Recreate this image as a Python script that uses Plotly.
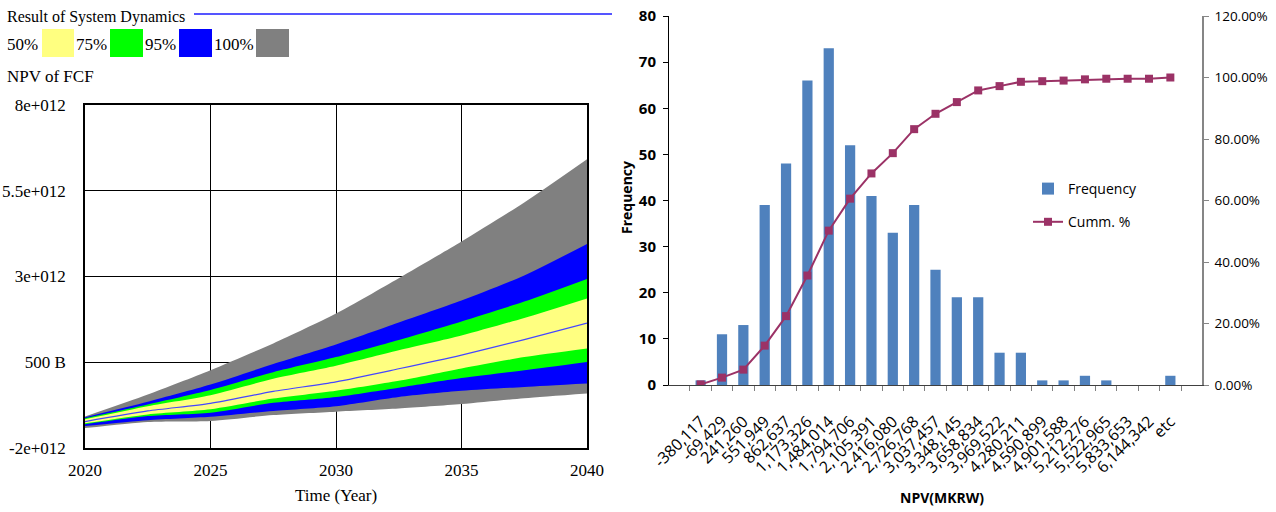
import plotly.graph_objects as go

# ---------------- Left panel data (NPV of FCF, in units of 1e12 KRW) ----------------
years = [2020, 2022.5, 2025, 2027.5, 2030, 2032.5, 2035, 2037.5, 2040]
p100_hi = [-1.08, -0.44, 0.27, 1.05, 1.92, 2.95, 4.02, 5.16, 6.42]
p95_hi = [-1.10, -0.65, -0.15, 0.45, 1.02, 1.66, 2.30, 3.03, 3.95]
p75_hi = [-1.13, -0.73, -0.31, 0.21, 0.65, 1.15, 1.69, 2.27, 2.93]
p50_hi = [-1.16, -0.78, -0.46, 0.02, 0.40, 0.85, 1.28, 1.79, 2.36]
median = [-1.23, -0.92, -0.70, -0.35, -0.07, 0.31, 0.71, 1.16, 1.64]
p50_lo = [-1.28, -1.02, -0.87, -0.56, -0.33, -0.04, 0.32, 0.65, 0.90]
p75_lo = [-1.31, -1.07, -0.97, -0.68, -0.51, -0.24, 0.04, 0.27, 0.51]
p95_lo = [-1.36, -1.19, -1.09, -0.92, -0.78, -0.51, -0.33, -0.22, -0.12]
p100_lo = [-1.42, -1.24, -1.21, -1.04, -0.94, -0.85, -0.72, -0.55, -0.41]

left_ytick_vals = [-2, 0.5, 3, 5.5, 8]
left_ytick_text = ["-2e+012", "500 B", "3e+012", "5.5e+012", "8e+012"]
left_xtick_vals = [2020, 2025, 2030, 2035, 2040]

# ---------------- Right panel data (histogram) ----------------
bins = ["-380,117", "-69,429", "241,260", "551,949", "862,637", "1,173,326",
        "1,484,014", "1,794,706", "2,105,391", "2,416,080", "2,726,768",
        "3,037,457", "3,348,145", "3,658,834", "3,969,522", "4,280,211",
        "4,590,899", "4,901,588", "5,212,276", "5,522,965", "5,833,653",
        "6,144,342", "etc"]
frequency = [1, 11, 13, 39, 48, 66, 73, 52, 41, 33, 39, 25, 19, 19, 7, 7,
             1, 1, 2, 1, 0, 0, 2]
cumm_pct = [0.002, 0.024, 0.050, 0.128, 0.224, 0.356, 0.502, 0.606, 0.688,
            0.754, 0.832, 0.882, 0.920, 0.958, 0.972, 0.986, 0.988, 0.990,
            0.994, 0.996, 0.996, 0.996, 1.000]

W, H = 1276, 512
def px(x):
    return x / W
def py(y):
    return 1 - y / H

SERIF = "Liberation Serif"
SANS = "Open Sans"

fig = go.Figure()

bands = [
    (p100_lo, p100_hi, "#808080"),
    (p95_lo, p95_hi, "#0000FF"),
    (p75_lo, p75_hi, "#00FF00"),
    (p50_lo, p50_hi, "#FFFF80"),
]
for lo, hi, col in bands:
    fig.add_trace(go.Scatter(x=years, y=lo, mode="lines",
                             line=dict(width=0, color=col, shape="spline", smoothing=0.7),
                             showlegend=False, hoverinfo="skip", xaxis="x", yaxis="y"))
    fig.add_trace(go.Scatter(x=years, y=hi, mode="lines",
                             line=dict(width=0, color=col, shape="spline", smoothing=0.7),
                             fill="tonexty", fillcolor=col, showlegend=False,
                             hoverinfo="skip", xaxis="x", yaxis="y"))
fig.add_trace(go.Scatter(x=years, y=median, mode="lines",
                         line=dict(width=1.2, color="#4646FF", shape="spline", smoothing=0.7),
                         showlegend=False, xaxis="x", yaxis="y"))

# Right panel
fig.add_trace(go.Bar(x=bins, y=frequency, name="Frequency", marker=dict(color="#4F81BD", line_width=0),
                     xaxis="x2", yaxis="y2", legendgroup="a"))
fig.add_trace(go.Scatter(x=bins, y=cumm_pct, name="Cumm. %", mode="lines+markers",
                         line=dict(color="#9B3266", width=2),
                         marker=dict(symbol="square", size=8, color="#9B3266"),
                         xaxis="x2", yaxis="y3", legendgroup="b"))

fig.update_layout(
    width=W, height=H,
    margin=dict(l=0, r=0, t=0, b=0, autoexpand=False),
    paper_bgcolor="white", plot_bgcolor="white",
    bargap=0.52,
    xaxis=dict(domain=[px(85), px(587)], range=[2020, 2040], tickvals=left_xtick_vals,
               showgrid=True, gridcolor="black", gridwidth=1, zeroline=False,
               showline=True, linecolor="black", linewidth=1.5, mirror=True,
               ticks="", ticklabelstandoff=6, automargin=False,
               tickfont=dict(family=SERIF, size=17, color="black"), anchor="y"),
    yaxis=dict(domain=[py(448), py(105)], range=[-2, 8], tickvals=left_ytick_vals,
               ticktext=left_ytick_text, showgrid=True, gridcolor="black", gridwidth=1,
               zeroline=False, showline=True, linecolor="black", linewidth=1.5, mirror=True,
               ticks="", ticklabelstandoff=14, automargin=False,
               tickfont=dict(family=SERIF, size=17, color="black"), anchor="x"),
    xaxis2=dict(domain=[px(669), px(1202)], type="category", anchor="y2",
                showgrid=False, showline=True, linecolor="#404040", linewidth=1,
                ticks="outside", tickson="boundaries", ticklen=5, tickcolor="#808080",
                tickangle=-45, ticklabelstandoff=20, automargin=False,
                tickfont=dict(family=SANS, size=16, color="black")),
    yaxis2=dict(domain=[py(385), py(16)], range=[0, 80], dtick=10, anchor="x2",
                showgrid=False, zeroline=False, showline=True, linecolor="black", linewidth=1,
                ticks="outside", ticklen=5, tickcolor="black", ticklabelstandoff=4,
                automargin=False,
                tickfont=dict(family=SANS, size=15, color="black", weight="bold")),
    yaxis3=dict(range=[0, 1.2], dtick=0.2, tickformat=".2%", overlaying="y2", side="right",
                anchor="x2", showgrid=False, zeroline=False, showline=True,
                linecolor="#868686", linewidth=1.5, ticks="outside", ticklen=5,
                tickcolor="#868686", ticklabelstandoff=3, automargin=False,
                tickfont=dict(family=SANS, size=13.5, color="black")),
    legend=dict(x=px(1028), y=py(173), xanchor="left", yanchor="top",
                font=dict(family=SANS, size=14, color="black"),
                traceorder="grouped", tracegroupgap=12, bgcolor="rgba(0,0,0,0)",
                itemwidth=30),
)

ann = []
def txt(t, x, y, size=17, family=SERIF, xanchor="left", bold=False, angle=0):
    ann.append(dict(text=("<b>%s</b>" % t) if bold else t, x=px(x), y=py(y),
                    xref="paper", yref="paper", xanchor=xanchor, yanchor="middle",
                    showarrow=False, textangle=angle,
                    font=dict(family=family, size=size, color="black")))

txt("Result of System Dynamics", 5, 17, size=16)
txt("50%", 5, 44)
txt("75%", 74, 44)
txt("95%", 143, 44)
txt("100%", 212, 44)
txt("NPV of FCF", 5, 76)
txt("Time (Year)", 336, 495, xanchor="center")
txt("NPV(MKRW)", 942, 497, size=14, family=SANS, xanchor="center", bold=True)
txt("Frequency", 626, 198, size=14, family=SANS, xanchor="center", bold=True, angle=-90)
fig.update_layout(annotations=ann)

shapes = [
    dict(type="line", xref="paper", yref="paper", x0=px(194), x1=px(612), y0=py(14), y1=py(14),
         line=dict(color="#5555FF", width=2)),
]
for x0, x1, col in [(42, 74, "#FFFF80"), (110, 143, "#00FF00"), (179, 212, "#0000FF"), (256, 289, "#808080")]:
    shapes.append(dict(type="rect", xref="paper", yref="paper", x0=px(x0), x1=px(x1),
                       y0=py(57), y1=py(29), fillcolor=col, line=dict(color=col, width=0)))
fig.update_layout(shapes=shapes)

fig.write_html("out.html")
